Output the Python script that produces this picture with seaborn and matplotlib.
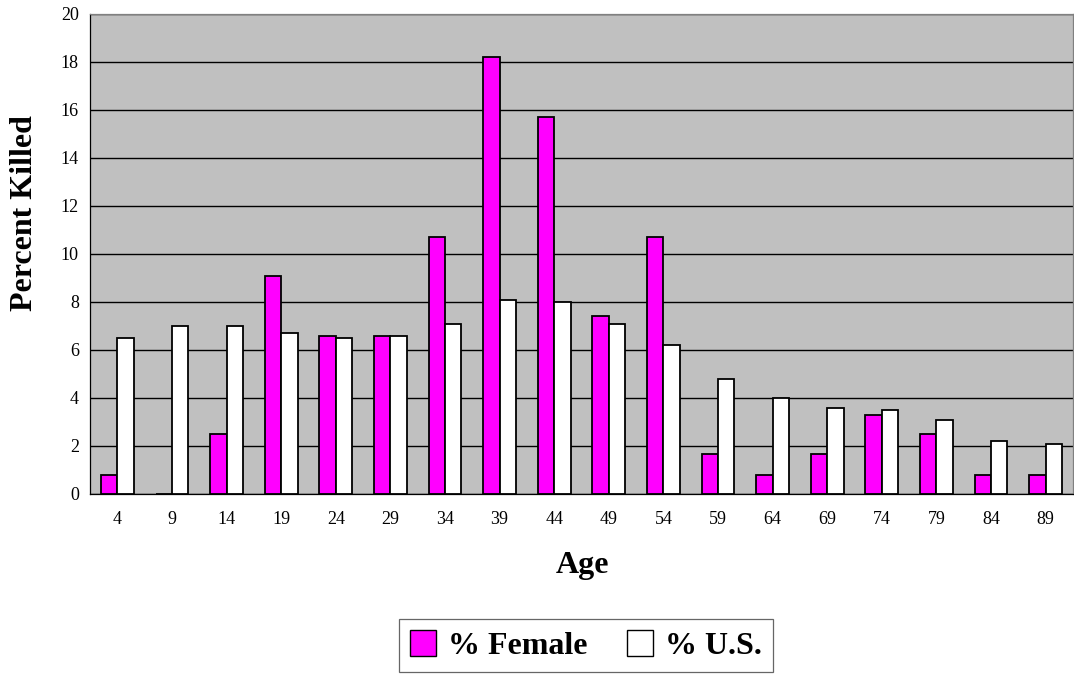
"""
Percent killed by age group: female victims vs U.S. population
"""

import pandas as pd
import matplotlib.pyplot as plt
import seaborn as sns
from matplotlib.patches import Patch
from matplotlib.ticker import FixedLocator

ages = [4, 9, 14, 19, 24, 29, 34, 39, 44, 49, 54, 59, 64, 69, 74, 79, 84, 89]
pct_female = [0.8, 0.0, 2.5, 9.1, 6.6, 6.6, 10.7, 18.2, 15.7, 7.4, 10.7, 1.65, 0.8, 1.65, 3.3, 2.5, 0.8, 0.8]
pct_us = [6.5, 7.0, 7.0, 6.7, 6.5, 6.6, 7.1, 8.1, 8.0, 7.1, 6.2, 4.8, 4.0, 3.6, 3.5, 3.1, 2.2, 2.1]
series_names = ['% Female', '% U.S.']
series_colors = ['#FF00FF', '#FFFFFF']

df = pd.DataFrame({
    'Age': [str(a) for a in ages] * 2,
    'Percent': pct_female + pct_us,
    'Series': [series_names[0]] * len(ages) + [series_names[1]] * len(ages),
})

sns.set_style('white')
plt.rcParams['font.family'] = ['Liberation Serif', 'DejaVu Serif']
plt.rcParams.update({'text.color': 'black', 'axes.labelcolor': 'black',
                     'xtick.color': 'black', 'ytick.color': 'black'})

fig = plt.figure(figsize=(10.74, 6.79), dpi=100)
ax = fig.add_axes([90 / 1074, 1 - 494 / 679, 983 / 1074, 480 / 679])
ax.set_facecolor('#C0C0C0')

sns.barplot(data=df, x='Age', y='Percent', hue='Series', palette=series_colors,
            saturation=1, width=0.6, edgecolor='black', linewidth=1.3, ax=ax,
            legend=False, zorder=3)

ax.set_ylim(0, 20)
ax.set_xlim(-0.5, len(ages) - 0.5)
ax.set_yticks(range(0, 21, 2))
ax.yaxis.grid(True, color='black', linewidth=1.0, zorder=0)
ax.set_axisbelow(True)

# x ticks sit between the groups, labels at group centres
ax.tick_params(axis='x', which='major', length=0, labelsize=13, pad=12)
ax.xaxis.set_minor_locator(FixedLocator([i + 0.5 for i in range(-1, len(ages))]))
ax.tick_params(axis='x', which='minor', direction='out', length=4.5, color='black', width=0.8)
ax.tick_params(axis='y', direction='out', length=3, color='black', width=0.8, labelsize=13, pad=5)

for side in ['left', 'bottom']:
    ax.spines[side].set_color('black')
    ax.spines[side].set_linewidth(0.9)
for side in ['top', 'right']:
    ax.spines[side].set_color('#808080')
    ax.spines[side].set_linewidth(0.9)

ax.set_xlabel('Age', fontsize=23, fontweight='bold', va='center')
ax.xaxis.set_label_coords((582 - 90) / 983, (494 - 566) / 480)
ax.set_ylabel('Percent Killed', fontsize=23, fontweight='bold', va='center')
ax.yaxis.set_label_coords((25 - 90) / 983, (494 - 213) / 480)

handles = [Patch(facecolor=c, edgecolor='black', linewidth=1.0) for c in series_colors]
leg = fig.legend(handles, series_names, loc='upper left',
                 bbox_to_anchor=(399 / 1074, 1 - 619 / 679), ncol=2,
                 prop={'size': 23, 'weight': 'bold'}, frameon=True, fancybox=False,
                 edgecolor='#404040', handlelength=0.81, handleheight=0.85,
                 columnspacing=1.25, handletextpad=0.37, borderpad=0.35,
                 borderaxespad=0)
leg.get_frame().set_linewidth(0.9)

plt.savefig('out.png', dpi=100)
plt.close()
